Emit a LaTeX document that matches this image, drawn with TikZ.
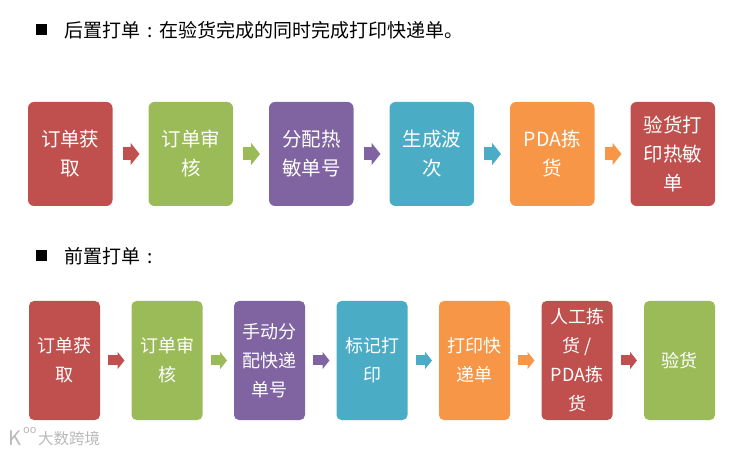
\documentclass[tikz,border=0pt]{standalone}
\usepackage{fontspec}
\setmainfont{Noto Sans CJK SC}
\usetikzlibrary{arrows.meta, positioning}
\definecolor{cred}{HTML}{C0504D}
\definecolor{cgreen}{HTML}{9BBB59}
\definecolor{cpurple}{HTML}{8064A2}
\definecolor{cblue}{HTML}{4BACC6}
\definecolor{corange}{HTML}{F79646}
\tikzset{
  step1/.style={rectangle, rounded corners=6pt, inner sep=0pt, outer sep=0pt,
                minimum width=84.5pt, minimum height=104pt,
                align=center, text=white, font=\fontsize{19.5}{29}\selectfont},
  step2/.style={step1, rounded corners=5pt,
                minimum width=71pt, minimum height=119pt,
                font=\fontsize{18}{29}\selectfont},
  arr1/.style={line width=13pt, -{Triangle[length=9pt,width=22pt]},
               shorten <=10pt, shorten >=9pt},
  arr2/.style={line width=10pt, -{Triangle[length=7pt,width=17pt]},
               shorten <=8pt, shorten >=7pt},
  heading/.style={anchor=west, inner sep=0pt, font=\fontsize{19}{22}\selectfont},
  bullet/.style={rectangle, fill=black, inner sep=0pt, minimum size=11pt},
  wmark/.style={anchor=west, inner sep=0pt, text=gray!55},
}
\begin{document}
\begin{tikzpicture}[x=1pt, y=-1pt]
  \useasboundingbox (0,0) rectangle (750,454);

  \node[bullet] (bulletA) at (41.5,30) {};
  \node[heading] (headA) at (64,30) {后置打单\hspace{.36em}:\hspace{.36em}在验货完成的同时完成打印快递单。};
  \node[bullet] (bulletB) at (41.5,256) {};
  \node[heading] (headB) at (64,256) {前置打单\hspace{.36em}:};

  % first row
  \node[step1, fill=cred] (a1) at (70.25,154) {订单获\\取};
  \node[step1, fill=cgreen, right=36pt of a1] (a2) {订单审\\核};
  \node[step1, fill=cpurple, right=36pt of a2] (a3) {分配热\\敏单号};
  \node[step1, fill=cblue, right=36pt of a3] (a4) {生成波\\次};
  \node[step1, fill=corange, right=36pt of a4] (a5) {PDA拣\\货};
  \node[step1, fill=cred, right=36pt of a5] (a6) {验货打\\印热敏\\单};

  \draw[arr1, cred] (a1) -- (a2);
  \draw[arr1, cgreen] (a2) -- (a3);
  \draw[arr1, cpurple] (a3) -- (a4);
  \draw[arr1, cblue] (a4) -- (a5);
  \draw[arr1, corange] (a5) -- (a6);

  % second row
  \node[step2, fill=cred] (b1) at (64.5,360.5) {订单获\\取};
  \node[step2, fill=cgreen, right=31.5pt of b1] (b2) {订单审\\核};
  \node[step2, fill=cpurple, right=31.5pt of b2] (b3) {手动分\\配快递\\单号};
  \node[step2, fill=cblue, right=31.5pt of b3] (b4) {标记打\\印};
  \node[step2, fill=corange, right=31.5pt of b4] (b5) {打印快\\递单};
  \node[step2, fill=cred, right=31.5pt of b5] (b6) {人工拣\\货 /\\PDA拣\\货};
  \node[step2, fill=cgreen, right=31.5pt of b6] (b7) {验货};

  \draw[arr2, cred] (b1) -- (b2);
  \draw[arr2, cgreen] (b2) -- (b3);
  \draw[arr2, cpurple] (b3) -- (b4);
  \draw[arr2, cblue] (b4) -- (b5);
  \draw[arr2, corange] (b5) -- (b6);
  \draw[arr2, cred] (b6) -- (b7);

  % watermark
  \node[wmark, font=\fontsize{15.5}{18}\selectfont] (mark) at (38,439) {大数跨境};
  \node[wmark, font=\fontsize{20}{20}\selectfont] (logo) at (8,438) {K};
  \node[wmark, font=\fontsize{11}{11}\selectfont] (logoo) at (23,431) {oo};
\end{tikzpicture}
\end{document}
